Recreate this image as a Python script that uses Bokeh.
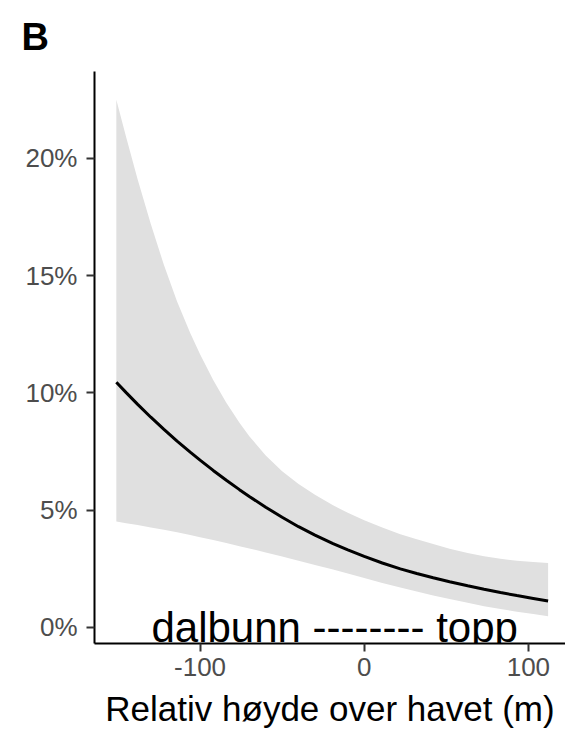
from bokeh.plotting import figure
from bokeh.models import ColumnDataSource, Label, NumeralTickFormatter, FixedTicker, Range1d
from bokeh.embed import file_html
from bokeh.resources import INLINE

# Data
elev = [-151, -145, -138, -130, -122, -114, -106, -100, -92, -84, -76, -70, -60, -50, -40,
        -30, -19, -10, 0, 11, 22, 32, 42, 52, 63, 73, 83, 93, 103, 112]
mean_pct = [10.45, 10.01, 9.51, 8.96, 8.44, 7.94, 7.47, 7.13, 6.69, 6.27, 5.87, 5.58, 5.12, 4.69, 4.29,
            3.93, 3.57, 3.30, 3.02, 2.74, 2.49, 2.29, 2.11, 1.94, 1.77, 1.62, 1.48, 1.35, 1.23, 1.12]
lower_pct = [4.51, 4.44, 4.36, 4.26, 4.16, 4.05, 3.93, 3.84, 3.72, 3.59, 3.46, 3.36, 3.19, 3.02, 2.84,
             2.66, 2.46, 2.29, 2.10, 1.89, 1.69, 1.52, 1.35, 1.20, 1.04, 0.90, 0.78, 0.66, 0.56, 0.47]
upper_pct = [22.5, 20.9, 19.1, 17.2, 15.45, 13.9, 12.55, 11.65, 10.55, 9.58, 8.72, 8.15, 7.33, 6.66, 6.11,
             5.65, 5.2, 4.88, 4.56, 4.25, 3.97, 3.75, 3.55, 3.35, 3.17, 3.03, 2.92, 2.84, 2.78, 2.74]

x_ticks = [-100, 0, 100]
x_tick_labels = ["-100", "0", "100"]
y_ticks = [0.0, 0.05, 0.10, 0.15, 0.20]

panel_letter = "B"
annotation_text = "dalbunn -------- topp"
annotation_x = -18
annotation_y = 0.0
x_title = "Relativ høyde over havet (m)"

src = ColumnDataSource(dict(
    x=elev,
    mean=[v / 100 for v in mean_pct],
    lower=[v / 100 for v in lower_pct],
    upper=[v / 100 for v in upper_pct],
))

FONT = "Liberation Sans"

p = figure(width=565, height=730, output_backend="svg", toolbar_location=None,
           x_range=Range1d(-164.3, 122.6), y_range=Range1d(-0.00694, 0.2371),
           min_border_left=94, min_border_right=0, min_border_top=71, min_border_bottom=86)

p.title.text = panel_letter
p.title.text_font = FONT
p.title.text_font_size = "38px"
p.title.text_font_style = "bold"
p.title.text_color = "black"
p.title.align = "left"
p.title.vertical_align = "top"
p.title.offset = -73
p.title.standoff = 23

p.varea(x="x", y1="lower", y2="upper", source=src, fill_color="#E0E0E0", fill_alpha=1.0)
p.line(x="x", y="mean", source=src, line_color="black", line_width=3)

p.add_layout(Label(x=annotation_x, y=annotation_y, text=annotation_text,
                   text_align="center", text_baseline="alphabetic",
                   text_font=FONT, text_font_size="42px", text_color="black"))

p.xgrid.visible = False
p.ygrid.visible = False
p.outline_line_color = None
p.background_fill_color = "white"
p.border_fill_color = "white"

for ax in (p.xaxis[0], p.yaxis[0]):
    ax.axis_line_color = "black"
    ax.axis_line_width = 2
    ax.major_tick_line_color = "#333333"
    ax.major_tick_line_width = 2
    ax.major_tick_out = 8
    ax.major_tick_in = 0
    ax.minor_tick_line_color = None
    ax.major_label_text_font = FONT
    ax.major_label_text_font_size = "26px"
    ax.major_label_text_color = "#4D4D4D"

p.xaxis.ticker = FixedTicker(ticks=x_ticks)
p.xaxis.major_label_overrides = {t: s for t, s in zip(x_ticks, x_tick_labels)}
p.yaxis.ticker = FixedTicker(ticks=y_ticks)
p.yaxis.formatter = NumeralTickFormatter(format="0%")
p.xaxis.major_label_standoff = 6
p.yaxis.major_label_standoff = 9

p.xaxis.axis_label = x_title
p.xaxis.axis_label_text_font = FONT
p.xaxis.axis_label_text_font_size = "35px"
p.xaxis.axis_label_text_font_style = "normal"
p.xaxis.axis_label_text_color = "black"
p.xaxis.axis_label_standoff = 10

open("out.html", "w").write(file_html(p, INLINE))
